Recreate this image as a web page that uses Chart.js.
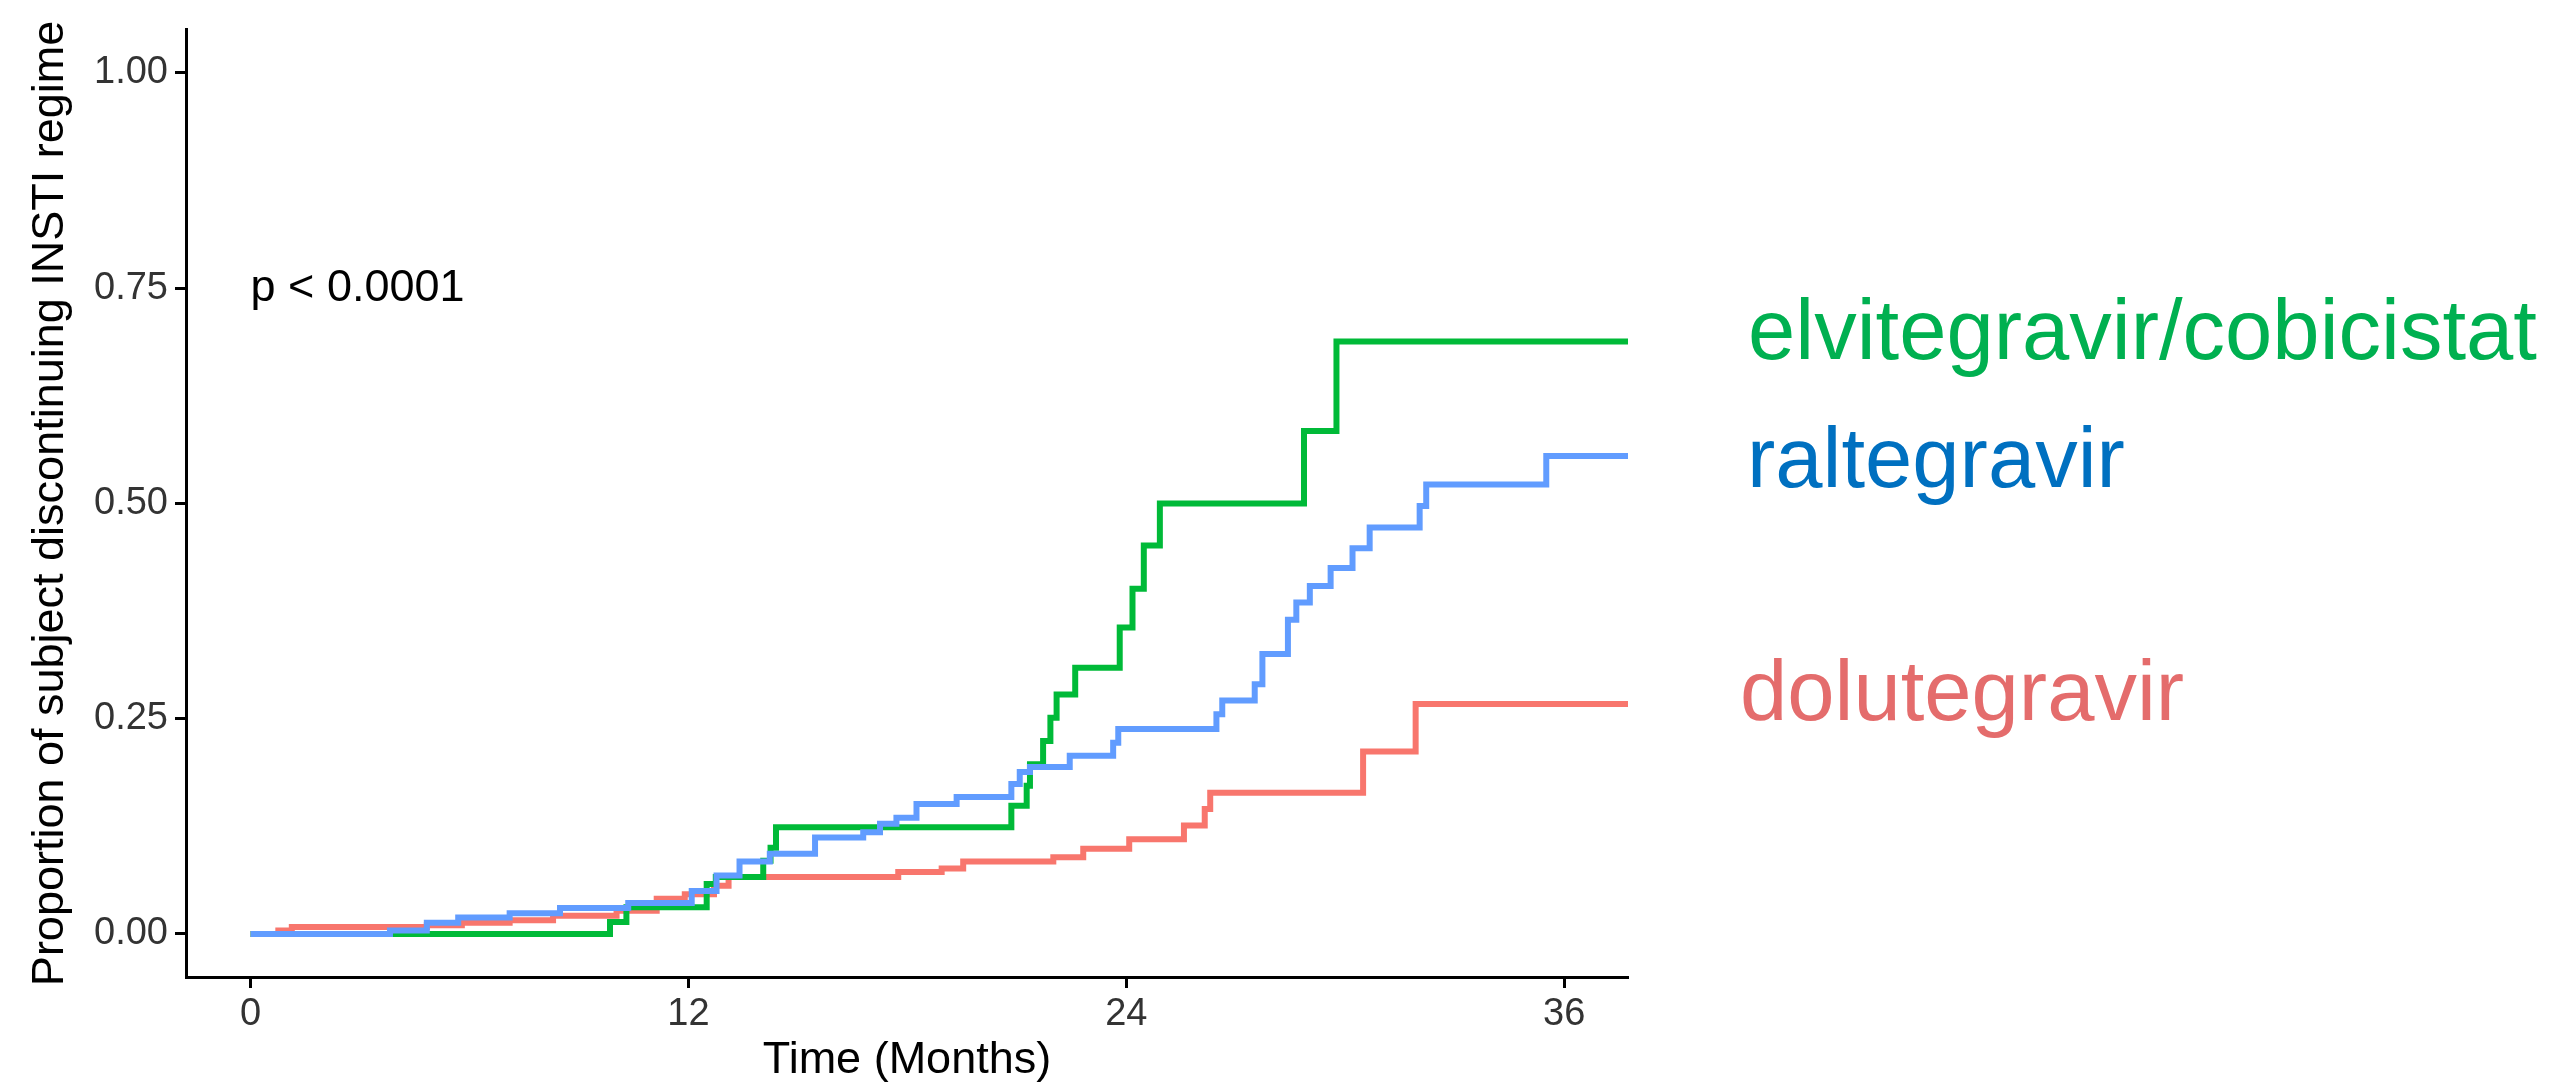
<!DOCTYPE html>
<html>
<head>
<meta charset="utf-8">
<script src="https://cdn.jsdelivr.net/npm/chart.js@4.4.1/dist/chart.umd.min.js"></script>
<style>
  html, body { margin: 0; padding: 0; background: #fff; }
  canvas { display: block; }
</style>
</head>
<body>
<canvas id="km" width="2561" height="1083"></canvas>
<script>
// cumulative proportion discontinuing, by regimen (step changes at event times, months)
const doluMonths = [0, 0.76, 1.13, 4.83, 5.79, 7.1, 8.29, 10.03, 11.13, 11.9, 12.7, 13.1, 17.75, 18.94, 19.53, 22.0, 22.82, 24.08, 25.58, 26.15, 26.3, 30.49, 31.93, 37.75];
const doluProp   = [0, 0.004, 0.008, 0.010, 0.013, 0.016, 0.021, 0.027, 0.041, 0.046, 0.056, 0.066, 0.072, 0.076, 0.084, 0.089, 0.099, 0.110, 0.126, 0.145, 0.164, 0.212, 0.267, 0.267];

const elviMonths = [0, 9.85, 10.3, 12.5, 12.75, 14.05, 14.25, 14.4, 20.85, 21.27, 21.36, 21.72, 21.92, 22.09, 22.6, 23.82, 24.17, 24.48, 24.92, 28.87, 29.76, 37.75];
const elviProp   = [0, 0.014, 0.031, 0.058, 0.066, 0.085, 0.100, 0.124, 0.149, 0.172, 0.197, 0.224, 0.251, 0.278, 0.309, 0.356, 0.401, 0.451, 0.500, 0.584, 0.688, 0.688];

const raltMonths = [0, 3.82, 4.83, 5.69, 7.1, 8.48, 10.35, 12.09, 12.77, 13.4, 14.23, 15.47, 16.79, 17.25, 17.7, 18.25, 19.35, 20.85, 21.08, 21.36, 22.45, 23.64, 23.78, 26.47, 26.63, 27.52, 27.73, 28.43, 28.66, 29.03, 29.6, 30.2, 30.67, 32.04, 32.22, 35.51, 37.75];
const raltProp   = [0, 0.004, 0.013, 0.019, 0.024, 0.030, 0.036, 0.050, 0.068, 0.084, 0.093, 0.112, 0.118, 0.128, 0.135, 0.151, 0.159, 0.174, 0.188, 0.194, 0.207, 0.222, 0.238, 0.255, 0.271, 0.290, 0.325, 0.365, 0.385, 0.404, 0.425, 0.448, 0.472, 0.497, 0.522, 0.555, 0.555];

const monthTicks = [0, 12, 24, 36];
const propTicks = [0, 0.25, 0.5, 0.75, 1];
const pValueText = 'p < 0.0001';

const toPoints = (xs, ys) => xs.map((x, i) => ({ x: x, y: ys[i] }));

Chart.defaults.font.family = "'Liberation Sans', Arial, Helvetica, sans-serif";

// names written next to the curves, right of the plot
const sideLabels = {
  id: 'sideLabels',
  afterDraw(chart) {
    const ctx = chart.ctx;
    const xs = chart.scales.x, ys = chart.scales.y;
    ctx.save();
    ctx.font = "45px 'Liberation Sans', Arial, sans-serif";
    ctx.fillStyle = '#000';
    ctx.textAlign = 'left';
    ctx.textBaseline = 'middle';
    ctx.fillText(pValueText, xs.getPixelForValue(0), ys.getPixelForValue(0.75));

    ctx.font = "85px 'Liberation Sans', Arial, sans-serif";
    ctx.textBaseline = 'alphabetic';
    const names = [
      { text: 'elvitegravir/cobicistat', color: '#00B050', x: 1748, y: 359 },
      { text: 'raltegravir', color: '#0070C0', x: 1747, y: 487 },
      { text: 'dolutegravir', color: '#E46C6C', x: 1740, y: 720 }
    ];
    names.forEach(n => {
      ctx.fillStyle = n.color;
      ctx.fillText(n.text, n.x, n.y);
    });
    ctx.restore();
  }
};

const lineStyle = { borderWidth: 6, pointRadius: 0, stepped: 'before', fill: false, borderCapStyle: 'butt', borderJoinStyle: 'miter' };

new Chart(document.getElementById('km'), {
  type: 'line',
  data: {
    datasets: [
      Object.assign({ label: 'dolutegravir', data: toPoints(doluMonths, doluProp), borderColor: '#F8766D', order: 2 }, lineStyle),
      Object.assign({ label: 'elvitegravir/cobicistat', data: toPoints(elviMonths, elviProp), borderColor: '#00BA38', order: 1 }, lineStyle),
      Object.assign({ label: 'raltegravir', data: toPoints(raltMonths, raltProp), borderColor: '#619CFF', order: 0 }, lineStyle)
    ]
  },
  options: {
    responsive: false,
    devicePixelRatio: 1,
    animation: false,
    layout: { padding: { left: 0, top: 29, right: 933, bottom: 0 } },
    plugins: { legend: { display: false }, tooltip: { enabled: false } },
    scales: {
      x: {
        type: 'linear',
        min: -1.77,
        max: 37.75,
        afterBuildTicks: s => { s.ticks = monthTicks.map(v => ({ value: v })); },
        afterFit: s => { s.height = 106; },
        ticks: { color: '#333', font: { size: 38 }, padding: 4, maxRotation: 0 },
        grid: { display: true, drawOnChartArea: false, drawTicks: true, tickLength: 11, tickWidth: 3, tickColor: '#000' },
        border: { display: true, color: '#000', width: 3 },
        title: { display: true, text: 'Time (Months)', color: '#000', font: { size: 45, lineHeight: 1 }, padding: { top: 0, bottom: 0 } }
      },
      y: {
        type: 'linear',
        min: -0.05,
        max: 1.05,
        afterBuildTicks: s => { s.ticks = propTicks.map(v => ({ value: v })); },
        afterFit: s => { s.width = 186; },
        ticks: { color: '#333', font: { size: 38 }, padding: 7, callback: v => v.toFixed(2) },
        grid: { display: true, drawOnChartArea: false, drawTicks: true, tickLength: 11, tickWidth: 3, tickColor: '#000' },
        border: { display: true, color: '#000', width: 3 },
        title: { display: true, text: 'Proportion of subject discontinuing INSTI regime', color: '#000', font: { size: 45, lineHeight: 1 }, padding: { top: 28, bottom: 0 } }
      }
    }
  },
  plugins: [sideLabels]
});
</script>
</body>
</html>
